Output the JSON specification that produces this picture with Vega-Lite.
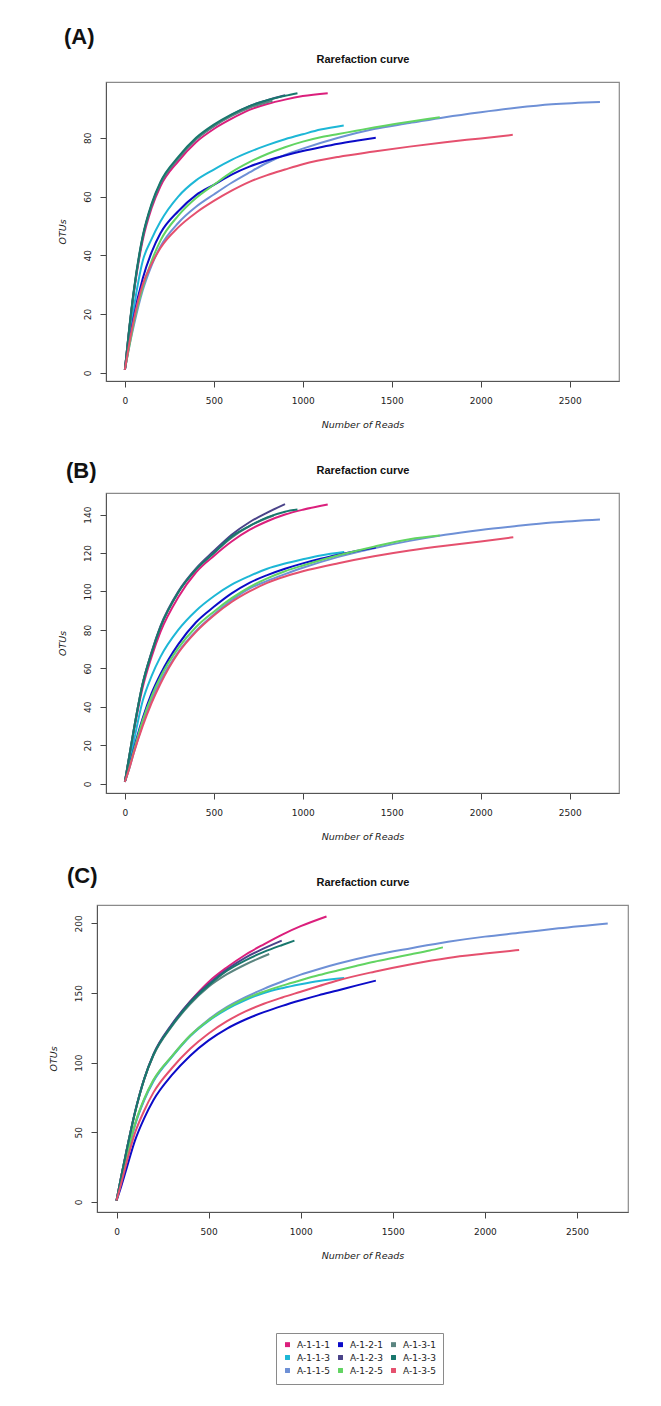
{
  "$schema": "https://vega.github.io/schema/vega-lite/v6.json",
  "autosize": {"type": "pad"},
  "background": "white",
  "padding": {"left": 47, "top": 25, "right": 5, "bottom": 5},
  "spacing": 112,
  "bounds": "flush",
  "center": true,
  "config": {
    "font": "Liberation Sans",
    "view": {"stroke": "#8a8a8a", "strokeWidth": 1.2},
    "axis": {"grid": false, "labelFont": "DejaVu Sans", "labelFontSize": 9, "labelColor": "#222", "titleFont": "DejaVu Sans", "titleFontSize": 9.5, "titleFontStyle": "italic", "titleFontWeight": "normal", "titleColor": "#222", "tickColor": "#444", "tickSize": 6, "domainColor": "#555", "labelOverlap": false, "labelFlush": false, "format": "d"},
    "axisX": {"labelPadding": 9, "titlePadding": 14, "labelAngle": 0},
    "axisY": {"labelAngle": 270, "labelAlign": "center", "labelBaseline": "bottom", "labelPadding": 8, "titlePadding": 16},
    "title": {"font": "Liberation Sans", "fontSize": 22, "fontWeight": "bold", "color": "#111", "anchor": "start", "frame": "group"}
  },
  "resolve": {"scale": {"color": "shared"}},
  "datasets": {
    "a": [
      {"s":"A-1-1-1","x":0,"y":1},{"s":"A-1-1-1","x":25,"y":15},{"s":"A-1-1-1","x":50,"y":27},{"s":"A-1-1-1","x":100,"y":45},{"s":"A-1-1-1","x":150,"y":56},{"s":"A-1-1-1","x":200,"y":63.5},{"s":"A-1-1-1","x":300,"y":72},{"s":"A-1-1-1","x":400,"y":78.5},{"s":"A-1-1-1","x":500,"y":83},{"s":"A-1-1-1","x":600,"y":86.5},{"s":"A-1-1-1","x":700,"y":89.5},{"s":"A-1-1-1","x":800,"y":91.5},{"s":"A-1-1-1","x":900,"y":93},{"s":"A-1-1-1","x":1000,"y":94.2},{"s":"A-1-1-1","x":1140,"y":95.2},
      {"s":"A-1-1-3","x":0,"y":1},{"s":"A-1-1-3","x":25,"y":12},{"s":"A-1-1-3","x":50,"y":22},{"s":"A-1-1-3","x":100,"y":38},{"s":"A-1-1-3","x":150,"y":45.5},{"s":"A-1-1-3","x":200,"y":51.5},{"s":"A-1-1-3","x":300,"y":60},{"s":"A-1-1-3","x":400,"y":65.5},{"s":"A-1-1-3","x":500,"y":69.2},{"s":"A-1-1-3","x":600,"y":72.5},{"s":"A-1-1-3","x":700,"y":75.2},{"s":"A-1-1-3","x":800,"y":77.5},{"s":"A-1-1-3","x":900,"y":79.5},{"s":"A-1-1-3","x":1000,"y":81.2},{"s":"A-1-1-3","x":1100,"y":82.8},{"s":"A-1-1-3","x":1230,"y":84.2},
      {"s":"A-1-1-5","x":0,"y":1},{"s":"A-1-1-5","x":25,"y":9},{"s":"A-1-1-5","x":50,"y":16},{"s":"A-1-1-5","x":100,"y":28},{"s":"A-1-1-5","x":150,"y":36.5},{"s":"A-1-1-5","x":200,"y":43},{"s":"A-1-1-5","x":300,"y":51},{"s":"A-1-1-5","x":400,"y":56.5},{"s":"A-1-1-5","x":500,"y":60.7},{"s":"A-1-1-5","x":600,"y":64.7},{"s":"A-1-1-5","x":700,"y":68.2},{"s":"A-1-1-5","x":800,"y":71.5},{"s":"A-1-1-5","x":900,"y":74.2},{"s":"A-1-1-5","x":1000,"y":76.3},{"s":"A-1-1-5","x":1200,"y":80},{"s":"A-1-1-5","x":1400,"y":83},{"s":"A-1-1-5","x":1600,"y":85},{"s":"A-1-1-5","x":1800,"y":87},{"s":"A-1-1-5","x":2000,"y":88.7},{"s":"A-1-1-5","x":2200,"y":90.2},{"s":"A-1-1-5","x":2400,"y":91.4},{"s":"A-1-1-5","x":2670,"y":92.2},
      {"s":"A-1-2-1","x":0,"y":1},{"s":"A-1-2-1","x":25,"y":10},{"s":"A-1-2-1","x":50,"y":19},{"s":"A-1-2-1","x":100,"y":32},{"s":"A-1-2-1","x":150,"y":41},{"s":"A-1-2-1","x":200,"y":47.5},{"s":"A-1-2-1","x":300,"y":55},{"s":"A-1-2-1","x":400,"y":60.5},{"s":"A-1-2-1","x":500,"y":64},{"s":"A-1-2-1","x":600,"y":67.5},{"s":"A-1-2-1","x":700,"y":70.2},{"s":"A-1-2-1","x":800,"y":72.3},{"s":"A-1-2-1","x":900,"y":74},{"s":"A-1-2-1","x":1000,"y":75.5},{"s":"A-1-2-1","x":1100,"y":76.8},{"s":"A-1-2-1","x":1200,"y":78},{"s":"A-1-2-1","x":1300,"y":79},{"s":"A-1-2-1","x":1410,"y":80},
      {"s":"A-1-2-3","x":0,"y":1},{"s":"A-1-2-3","x":25,"y":15},{"s":"A-1-2-3","x":50,"y":27.5},{"s":"A-1-2-3","x":100,"y":46},{"s":"A-1-2-3","x":150,"y":57},{"s":"A-1-2-3","x":200,"y":64.5},{"s":"A-1-2-3","x":300,"y":73},{"s":"A-1-2-3","x":400,"y":79.5},{"s":"A-1-2-3","x":500,"y":84},{"s":"A-1-2-3","x":600,"y":87.8},{"s":"A-1-2-3","x":700,"y":90.8},{"s":"A-1-2-3","x":800,"y":92.8},{"s":"A-1-2-3","x":900,"y":94.5},
      {"s":"A-1-2-5","x":0,"y":1},{"s":"A-1-2-5","x":25,"y":9},{"s":"A-1-2-5","x":50,"y":17},{"s":"A-1-2-5","x":100,"y":29},{"s":"A-1-2-5","x":150,"y":38},{"s":"A-1-2-5","x":200,"y":45},{"s":"A-1-2-5","x":300,"y":53.5},{"s":"A-1-2-5","x":400,"y":59.5},{"s":"A-1-2-5","x":500,"y":64},{"s":"A-1-2-5","x":600,"y":68.3},{"s":"A-1-2-5","x":700,"y":71.7},{"s":"A-1-2-5","x":800,"y":74.5},{"s":"A-1-2-5","x":900,"y":76.8},{"s":"A-1-2-5","x":1000,"y":78.7},{"s":"A-1-2-5","x":1100,"y":80.2},{"s":"A-1-2-5","x":1200,"y":81.3},{"s":"A-1-2-5","x":1300,"y":82.4},{"s":"A-1-2-5","x":1400,"y":83.5},{"s":"A-1-2-5","x":1500,"y":84.5},{"s":"A-1-2-5","x":1600,"y":85.5},{"s":"A-1-2-5","x":1700,"y":86.4},{"s":"A-1-2-5","x":1770,"y":87},
      {"s":"A-1-3-1","x":0,"y":1},{"s":"A-1-3-1","x":25,"y":15},{"s":"A-1-3-1","x":50,"y":27.5},{"s":"A-1-3-1","x":100,"y":46},{"s":"A-1-3-1","x":150,"y":57},{"s":"A-1-3-1","x":200,"y":64.5},{"s":"A-1-3-1","x":300,"y":73},{"s":"A-1-3-1","x":400,"y":79.5},{"s":"A-1-3-1","x":500,"y":84},{"s":"A-1-3-1","x":600,"y":87.5},{"s":"A-1-3-1","x":700,"y":90.2},{"s":"A-1-3-1","x":830,"y":92.6},
      {"s":"A-1-3-3","x":0,"y":1},{"s":"A-1-3-3","x":25,"y":15.5},{"s":"A-1-3-3","x":50,"y":28},{"s":"A-1-3-3","x":100,"y":46.5},{"s":"A-1-3-3","x":150,"y":57.5},{"s":"A-1-3-3","x":200,"y":65},{"s":"A-1-3-3","x":300,"y":73.5},{"s":"A-1-3-3","x":400,"y":80},{"s":"A-1-3-3","x":500,"y":84.5},{"s":"A-1-3-3","x":600,"y":88},{"s":"A-1-3-3","x":700,"y":90.8},{"s":"A-1-3-3","x":800,"y":92.8},{"s":"A-1-3-3","x":900,"y":94.3},{"s":"A-1-3-3","x":970,"y":95.2},
      {"s":"A-1-3-5","x":0,"y":1},{"s":"A-1-3-5","x":25,"y":10},{"s":"A-1-3-5","x":50,"y":18},{"s":"A-1-3-5","x":100,"y":30},{"s":"A-1-3-5","x":150,"y":37},{"s":"A-1-3-5","x":200,"y":42.5},{"s":"A-1-3-5","x":300,"y":49.5},{"s":"A-1-3-5","x":400,"y":54.5},{"s":"A-1-3-5","x":500,"y":58.5},{"s":"A-1-3-5","x":600,"y":62},{"s":"A-1-3-5","x":700,"y":65},{"s":"A-1-3-5","x":800,"y":67.3},{"s":"A-1-3-5","x":900,"y":69.2},{"s":"A-1-3-5","x":1000,"y":71},{"s":"A-1-3-5","x":1200,"y":73.5},{"s":"A-1-3-5","x":1400,"y":75.3},{"s":"A-1-3-5","x":1600,"y":77},{"s":"A-1-3-5","x":1800,"y":78.5},{"s":"A-1-3-5","x":2000,"y":79.8},{"s":"A-1-3-5","x":2180,"y":81}
    ],
    "b": [
      {"s":"A-1-1-1","x":0,"y":1},{"s":"A-1-1-1","x":25,"y":14},{"s":"A-1-1-1","x":50,"y":27},{"s":"A-1-1-1","x":100,"y":50},{"s":"A-1-1-1","x":150,"y":66},{"s":"A-1-1-1","x":200,"y":79},{"s":"A-1-1-1","x":300,"y":97},{"s":"A-1-1-1","x":400,"y":110},{"s":"A-1-1-1","x":500,"y":118.5},{"s":"A-1-1-1","x":600,"y":126},{"s":"A-1-1-1","x":700,"y":132},{"s":"A-1-1-1","x":800,"y":136.5},{"s":"A-1-1-1","x":900,"y":140},{"s":"A-1-1-1","x":1000,"y":142.5},{"s":"A-1-1-1","x":1140,"y":145.2},
      {"s":"A-1-1-3","x":0,"y":1},{"s":"A-1-1-3","x":25,"y":11},{"s":"A-1-1-3","x":50,"y":22},{"s":"A-1-1-3","x":100,"y":43},{"s":"A-1-1-3","x":150,"y":56},{"s":"A-1-1-3","x":200,"y":66},{"s":"A-1-1-3","x":300,"y":80},{"s":"A-1-1-3","x":400,"y":90},{"s":"A-1-1-3","x":500,"y":97.5},{"s":"A-1-1-3","x":600,"y":103.5},{"s":"A-1-1-3","x":700,"y":108},{"s":"A-1-1-3","x":800,"y":111.8},{"s":"A-1-1-3","x":900,"y":114.5},{"s":"A-1-1-3","x":1000,"y":116.7},{"s":"A-1-1-3","x":1100,"y":118.7},{"s":"A-1-1-3","x":1233,"y":120.5},
      {"s":"A-1-1-5","x":0,"y":1},{"s":"A-1-1-5","x":25,"y":8},{"s":"A-1-1-5","x":50,"y":16},{"s":"A-1-1-5","x":100,"y":31},{"s":"A-1-1-5","x":150,"y":43.5},{"s":"A-1-1-5","x":200,"y":53.5},{"s":"A-1-1-5","x":300,"y":68.5},{"s":"A-1-1-5","x":400,"y":79.5},{"s":"A-1-1-5","x":500,"y":88},{"s":"A-1-1-5","x":600,"y":95.5},{"s":"A-1-1-5","x":700,"y":101.5},{"s":"A-1-1-5","x":800,"y":105.5},{"s":"A-1-1-5","x":900,"y":109},{"s":"A-1-1-5","x":1000,"y":112.3},{"s":"A-1-1-5","x":1200,"y":118},{"s":"A-1-1-5","x":1400,"y":122.5},{"s":"A-1-1-5","x":1600,"y":126.3},{"s":"A-1-1-5","x":1800,"y":129.5},{"s":"A-1-1-5","x":2000,"y":132},{"s":"A-1-1-5","x":2200,"y":134},{"s":"A-1-1-5","x":2400,"y":135.8},{"s":"A-1-1-5","x":2670,"y":137.4},
      {"s":"A-1-2-1","x":0,"y":1},{"s":"A-1-2-1","x":25,"y":9},{"s":"A-1-2-1","x":50,"y":18},{"s":"A-1-2-1","x":100,"y":34},{"s":"A-1-2-1","x":150,"y":47},{"s":"A-1-2-1","x":200,"y":57},{"s":"A-1-2-1","x":300,"y":72.5},{"s":"A-1-2-1","x":400,"y":84},{"s":"A-1-2-1","x":500,"y":92},{"s":"A-1-2-1","x":600,"y":99},{"s":"A-1-2-1","x":700,"y":104.5},{"s":"A-1-2-1","x":800,"y":108.5},{"s":"A-1-2-1","x":900,"y":111.8},{"s":"A-1-2-1","x":1000,"y":114.6},{"s":"A-1-2-1","x":1100,"y":117},{"s":"A-1-2-1","x":1200,"y":119.1},{"s":"A-1-2-1","x":1300,"y":121},{"s":"A-1-2-1","x":1410,"y":122.8},
      {"s":"A-1-2-3","x":0,"y":1},{"s":"A-1-2-3","x":25,"y":14.5},{"s":"A-1-2-3","x":50,"y":28},{"s":"A-1-2-3","x":100,"y":52},{"s":"A-1-2-3","x":150,"y":68.5},{"s":"A-1-2-3","x":200,"y":82},{"s":"A-1-2-3","x":300,"y":100},{"s":"A-1-2-3","x":400,"y":112},{"s":"A-1-2-3","x":500,"y":121},{"s":"A-1-2-3","x":600,"y":129.5},{"s":"A-1-2-3","x":700,"y":136},{"s":"A-1-2-3","x":800,"y":141},{"s":"A-1-2-3","x":900,"y":145.4},
      {"s":"A-1-2-5","x":0,"y":1},{"s":"A-1-2-5","x":25,"y":8.5},{"s":"A-1-2-5","x":50,"y":17},{"s":"A-1-2-5","x":100,"y":33},{"s":"A-1-2-5","x":150,"y":45.5},{"s":"A-1-2-5","x":200,"y":55.5},{"s":"A-1-2-5","x":300,"y":70.5},{"s":"A-1-2-5","x":400,"y":81.5},{"s":"A-1-2-5","x":500,"y":89.5},{"s":"A-1-2-5","x":600,"y":96.5},{"s":"A-1-2-5","x":700,"y":102.3},{"s":"A-1-2-5","x":800,"y":106.8},{"s":"A-1-2-5","x":900,"y":110.5},{"s":"A-1-2-5","x":1000,"y":113.5},{"s":"A-1-2-5","x":1200,"y":118.8},{"s":"A-1-2-5","x":1400,"y":123.3},{"s":"A-1-2-5","x":1600,"y":127.2},{"s":"A-1-2-5","x":1770,"y":129.1},
      {"s":"A-1-3-1","x":0,"y":1},{"s":"A-1-3-1","x":25,"y":14.5},{"s":"A-1-3-1","x":50,"y":28},{"s":"A-1-3-1","x":100,"y":52},{"s":"A-1-3-1","x":150,"y":68},{"s":"A-1-3-1","x":200,"y":81.5},{"s":"A-1-3-1","x":300,"y":99.5},{"s":"A-1-3-1","x":400,"y":111.5},{"s":"A-1-3-1","x":500,"y":120},{"s":"A-1-3-1","x":600,"y":128},{"s":"A-1-3-1","x":700,"y":134},{"s":"A-1-3-1","x":836,"y":139.5},
      {"s":"A-1-3-3","x":0,"y":1},{"s":"A-1-3-3","x":25,"y":14.5},{"s":"A-1-3-3","x":50,"y":28},{"s":"A-1-3-3","x":100,"y":52},{"s":"A-1-3-3","x":150,"y":68},{"s":"A-1-3-3","x":200,"y":81.5},{"s":"A-1-3-3","x":300,"y":99.5},{"s":"A-1-3-3","x":400,"y":111.5},{"s":"A-1-3-3","x":500,"y":120},{"s":"A-1-3-3","x":600,"y":128.5},{"s":"A-1-3-3","x":700,"y":134},{"s":"A-1-3-3","x":800,"y":138.5},{"s":"A-1-3-3","x":900,"y":141.5},{"s":"A-1-3-3","x":970,"y":142.6},
      {"s":"A-1-3-5","x":0,"y":1},{"s":"A-1-3-5","x":25,"y":8},{"s":"A-1-3-5","x":50,"y":16},{"s":"A-1-3-5","x":100,"y":30},{"s":"A-1-3-5","x":150,"y":42},{"s":"A-1-3-5","x":200,"y":52},{"s":"A-1-3-5","x":300,"y":68},{"s":"A-1-3-5","x":400,"y":79},{"s":"A-1-3-5","x":500,"y":87.5},{"s":"A-1-3-5","x":600,"y":94.5},{"s":"A-1-3-5","x":700,"y":100},{"s":"A-1-3-5","x":800,"y":104.5},{"s":"A-1-3-5","x":900,"y":107.8},{"s":"A-1-3-5","x":1000,"y":110.5},{"s":"A-1-3-5","x":1200,"y":114.7},{"s":"A-1-3-5","x":1400,"y":118.3},{"s":"A-1-3-5","x":1600,"y":121.3},{"s":"A-1-3-5","x":1800,"y":123.8},{"s":"A-1-3-5","x":2000,"y":126},{"s":"A-1-3-5","x":2183,"y":128.2}
    ],
    "c": [
      {"s":"A-1-1-1","x":0,"y":1},{"s":"A-1-1-1","x":25,"y":18},{"s":"A-1-1-1","x":50,"y":34},{"s":"A-1-1-1","x":100,"y":64},{"s":"A-1-1-1","x":150,"y":88},{"s":"A-1-1-1","x":200,"y":105.5},{"s":"A-1-1-1","x":300,"y":127},{"s":"A-1-1-1","x":400,"y":144},{"s":"A-1-1-1","x":500,"y":158},{"s":"A-1-1-1","x":600,"y":168.5},{"s":"A-1-1-1","x":700,"y":177.5},{"s":"A-1-1-1","x":800,"y":185},{"s":"A-1-1-1","x":900,"y":192},{"s":"A-1-1-1","x":1000,"y":198},{"s":"A-1-1-1","x":1140,"y":205},
      {"s":"A-1-1-3","x":0,"y":1},{"s":"A-1-1-3","x":25,"y":15},{"s":"A-1-1-3","x":50,"y":29},{"s":"A-1-1-3","x":100,"y":55},{"s":"A-1-1-3","x":150,"y":73},{"s":"A-1-1-3","x":200,"y":86.5},{"s":"A-1-1-3","x":300,"y":104},{"s":"A-1-1-3","x":400,"y":119},{"s":"A-1-1-3","x":500,"y":130},{"s":"A-1-1-3","x":600,"y":138.5},{"s":"A-1-1-3","x":700,"y":145},{"s":"A-1-1-3","x":800,"y":150},{"s":"A-1-1-3","x":900,"y":153.5},{"s":"A-1-1-3","x":1000,"y":156.3},{"s":"A-1-1-3","x":1100,"y":158.7},{"s":"A-1-1-3","x":1236,"y":160.8},
      {"s":"A-1-1-5","x":0,"y":1},{"s":"A-1-1-5","x":25,"y":15},{"s":"A-1-1-5","x":50,"y":29},{"s":"A-1-1-5","x":100,"y":55.5},{"s":"A-1-1-5","x":150,"y":73.5},{"s":"A-1-1-5","x":200,"y":87},{"s":"A-1-1-5","x":300,"y":104.5},{"s":"A-1-1-5","x":400,"y":119.5},{"s":"A-1-1-5","x":500,"y":131},{"s":"A-1-1-5","x":600,"y":140},{"s":"A-1-1-5","x":700,"y":147},{"s":"A-1-1-5","x":800,"y":153},{"s":"A-1-1-5","x":900,"y":158.3},{"s":"A-1-1-5","x":1000,"y":163.2},{"s":"A-1-1-5","x":1100,"y":167.3},{"s":"A-1-1-5","x":1200,"y":171},{"s":"A-1-1-5","x":1400,"y":177.3},{"s":"A-1-1-5","x":1600,"y":182.2},{"s":"A-1-1-5","x":1800,"y":186.8},{"s":"A-1-1-5","x":2000,"y":190.5},{"s":"A-1-1-5","x":2200,"y":193.4},{"s":"A-1-1-5","x":2400,"y":196.5},{"s":"A-1-1-5","x":2667,"y":200},
      {"s":"A-1-2-1","x":0,"y":1},{"s":"A-1-2-1","x":25,"y":11},{"s":"A-1-2-1","x":50,"y":22},{"s":"A-1-2-1","x":100,"y":44},{"s":"A-1-2-1","x":150,"y":60},{"s":"A-1-2-1","x":200,"y":73},{"s":"A-1-2-1","x":300,"y":91},{"s":"A-1-2-1","x":400,"y":105},{"s":"A-1-2-1","x":500,"y":116},{"s":"A-1-2-1","x":600,"y":124.5},{"s":"A-1-2-1","x":700,"y":131},{"s":"A-1-2-1","x":800,"y":136.3},{"s":"A-1-2-1","x":900,"y":140.8},{"s":"A-1-2-1","x":1000,"y":144.8},{"s":"A-1-2-1","x":1100,"y":148.5},{"s":"A-1-2-1","x":1200,"y":151.8},{"s":"A-1-2-1","x":1300,"y":155.3},{"s":"A-1-2-1","x":1408,"y":158.9},
      {"s":"A-1-2-3","x":0,"y":1},{"s":"A-1-2-3","x":25,"y":18},{"s":"A-1-2-3","x":50,"y":34},{"s":"A-1-2-3","x":100,"y":64.5},{"s":"A-1-2-3","x":150,"y":88.5},{"s":"A-1-2-3","x":200,"y":106},{"s":"A-1-2-3","x":300,"y":127.5},{"s":"A-1-2-3","x":400,"y":144},{"s":"A-1-2-3","x":500,"y":156.5},{"s":"A-1-2-3","x":600,"y":167},{"s":"A-1-2-3","x":700,"y":175.5},{"s":"A-1-2-3","x":800,"y":182},{"s":"A-1-2-3","x":897,"y":187.6},
      {"s":"A-1-2-5","x":0,"y":1},{"s":"A-1-2-5","x":25,"y":15},{"s":"A-1-2-5","x":50,"y":29.5},{"s":"A-1-2-5","x":100,"y":56},{"s":"A-1-2-5","x":150,"y":74},{"s":"A-1-2-5","x":200,"y":87.5},{"s":"A-1-2-5","x":300,"y":104.5},{"s":"A-1-2-5","x":400,"y":119.5},{"s":"A-1-2-5","x":500,"y":130.5},{"s":"A-1-2-5","x":600,"y":139.3},{"s":"A-1-2-5","x":700,"y":146},{"s":"A-1-2-5","x":800,"y":151},{"s":"A-1-2-5","x":900,"y":155.3},{"s":"A-1-2-5","x":1000,"y":159.2},{"s":"A-1-2-5","x":1100,"y":162.9},{"s":"A-1-2-5","x":1200,"y":166.2},{"s":"A-1-2-5","x":1300,"y":169.4},{"s":"A-1-2-5","x":1400,"y":172.5},{"s":"A-1-2-5","x":1500,"y":175.2},{"s":"A-1-2-5","x":1600,"y":177.8},{"s":"A-1-2-5","x":1700,"y":180.5},{"s":"A-1-2-5","x":1772,"y":182.8},
      {"s":"A-1-3-1","x":0,"y":1},{"s":"A-1-3-1","x":25,"y":18},{"s":"A-1-3-1","x":50,"y":34},{"s":"A-1-3-1","x":100,"y":64},{"s":"A-1-3-1","x":150,"y":88},{"s":"A-1-3-1","x":200,"y":105},{"s":"A-1-3-1","x":300,"y":126},{"s":"A-1-3-1","x":400,"y":142},{"s":"A-1-3-1","x":500,"y":154.5},{"s":"A-1-3-1","x":600,"y":163.5},{"s":"A-1-3-1","x":700,"y":170.5},{"s":"A-1-3-1","x":829,"y":178},
      {"s":"A-1-3-3","x":0,"y":1},{"s":"A-1-3-3","x":25,"y":18},{"s":"A-1-3-3","x":50,"y":34},{"s":"A-1-3-3","x":100,"y":64},{"s":"A-1-3-3","x":150,"y":88},{"s":"A-1-3-3","x":200,"y":105.5},{"s":"A-1-3-3","x":300,"y":126.5},{"s":"A-1-3-3","x":400,"y":143},{"s":"A-1-3-3","x":500,"y":155.5},{"s":"A-1-3-3","x":600,"y":166},{"s":"A-1-3-3","x":700,"y":173.5},{"s":"A-1-3-3","x":800,"y":179.5},{"s":"A-1-3-3","x":900,"y":184.5},{"s":"A-1-3-3","x":966,"y":187.6},
      {"s":"A-1-3-5","x":0,"y":1},{"s":"A-1-3-5","x":25,"y":13},{"s":"A-1-3-5","x":50,"y":26},{"s":"A-1-3-5","x":100,"y":49.5},{"s":"A-1-3-5","x":150,"y":65.5},{"s":"A-1-3-5","x":200,"y":78.5},{"s":"A-1-3-5","x":300,"y":96},{"s":"A-1-3-5","x":400,"y":110},{"s":"A-1-3-5","x":500,"y":121},{"s":"A-1-3-5","x":600,"y":129.8},{"s":"A-1-3-5","x":700,"y":136.8},{"s":"A-1-3-5","x":800,"y":142.3},{"s":"A-1-3-5","x":900,"y":146.8},{"s":"A-1-3-5","x":1000,"y":150.9},{"s":"A-1-3-5","x":1100,"y":155},{"s":"A-1-3-5","x":1200,"y":159},{"s":"A-1-3-5","x":1400,"y":165.3},{"s":"A-1-3-5","x":1600,"y":170.7},{"s":"A-1-3-5","x":1800,"y":175.2},{"s":"A-1-3-5","x":2000,"y":178.3},{"s":"A-1-3-5","x":2186,"y":180.9}
    ]
  },
  "vconcat": [
    {
      "width": 513, "height": 299,
      "title": {"text": "(A)", "dx": -42, "offset": 4},
      "data": {"name": "a"},
      "resolve": {"axis": {"x": "independent"}},
      "layer": [
        {
          "mark": {"type": "line", "strokeWidth": 2, "interpolate": "monotone"},
          "encoding": {
            "x": {"field": "x", "type": "quantitative", "scale": {"domain": [-106, 2777], "nice": false, "zero": false}, "axis": {"values": [0, 500, 1000, 1500, 2000, 2500], "title": "Number of Reads"}},
            "y": {"field": "y", "type": "quantitative", "scale": {"domain": [-2.8, 99], "nice": false, "zero": false}, "axis": {"values": [0, 20, 40, 60, 80], "title": "OTUs"}},
            "color": {"field": "s", "type": "nominal",
              "scale": {"domain": ["A-1-1-1","A-1-1-3","A-1-1-5","A-1-2-1","A-1-2-3","A-1-2-5","A-1-3-1","A-1-3-3","A-1-3-5"], "range": ["#DB1F7C","#1DB7D6","#6E90D6","#0B0BC8","#4A4389","#62D462","#5B8580","#18776D","#E5506E"]},
              "legend": {"title": null, "orient": "none", "legendX": 179, "legendY": 1251, "columns": 3, "symbolType": "square", "symbolSize": 6, "symbolStrokeWidth": 2.5, "labelFont": "DejaVu Sans", "labelFontSize": 9, "labelColor": "#222", "labelOffset": 5, "columnPadding": 4, "rowPadding": 0, "padding": 7, "strokeColor": "#8a8a8a", "fillColor": "white"}}
          }
        },
        {
          "mark": {"type": "point", "opacity": 0},
          "encoding": {
            "x": {"field": "x", "type": "quantitative", "scale": {"domain": [-106, 2777], "nice": false, "zero": false}, "axis": {"orient": "top", "title": "Rarefaction curve", "labels": false, "ticks": false, "domain": false, "titleFont": "Liberation Sans", "titleFontSize": 11, "titleFontWeight": "bold", "titleFontStyle": "normal", "titleColor": "#111", "titlePadding": 18}}
          }
        }
      ]
    },
    {
      "width": 513, "height": 300,
      "title": {"text": "(B)", "dx": -40, "offset": 4, "dy": 23},
      "data": {"name": "b"},
      "resolve": {"axis": {"x": "independent"}},
      "layer": [
        {
          "mark": {"type": "line", "strokeWidth": 2, "interpolate": "monotone"},
          "encoding": {
            "x": {"field": "x", "type": "quantitative", "scale": {"domain": [-106, 2777], "nice": false, "zero": false}, "axis": {"values": [0, 500, 1000, 1500, 2000, 2500], "title": "Number of Reads"}},
            "y": {"field": "y", "type": "quantitative", "scale": {"domain": [-4.8, 151.2], "nice": false, "zero": false}, "axis": {"values": [0, 20, 40, 60, 80, 100, 120, 140], "title": "OTUs"}},
            "color": {"field": "s", "type": "nominal",
              "scale": {"domain": ["A-1-1-1","A-1-1-3","A-1-1-5","A-1-2-1","A-1-2-3","A-1-2-5","A-1-3-1","A-1-3-3","A-1-3-5"], "range": ["#DB1F7C","#1DB7D6","#6E90D6","#0B0BC8","#4A4389","#62D462","#5B8580","#18776D","#E5506E"]},
              "legend": {"title": null, "orient": "none", "legendX": 179, "legendY": 1251, "columns": 3, "symbolType": "square", "symbolSize": 6, "symbolStrokeWidth": 2.5, "labelFont": "DejaVu Sans", "labelFontSize": 9, "labelColor": "#222", "labelOffset": 5, "columnPadding": 4, "rowPadding": 0, "padding": 7, "strokeColor": "#8a8a8a", "fillColor": "white"}}
          }
        },
        {
          "mark": {"type": "point", "opacity": 0},
          "encoding": {
            "x": {"field": "x", "type": "quantitative", "scale": {"domain": [-106, 2777], "nice": false, "zero": false}, "axis": {"orient": "top", "title": "Rarefaction curve", "labels": false, "ticks": false, "domain": false, "titleFont": "Liberation Sans", "titleFontSize": 11, "titleFontWeight": "bold", "titleFontStyle": "normal", "titleColor": "#111", "titlePadding": 18}}
          }
        }
      ]
    },
    {
      "width": 531, "height": 307,
      "title": {"text": "(C)", "dx": -30, "offset": 4, "dy": 16},
      "data": {"name": "c"},
      "resolve": {"axis": {"x": "independent"}},
      "layer": [
        {
          "mark": {"type": "line", "strokeWidth": 2, "interpolate": "monotone"},
          "encoding": {
            "x": {"field": "x", "type": "quantitative", "scale": {"domain": [-106, 2777], "nice": false, "zero": false}, "axis": {"values": [0, 500, 1000, 1500, 2000, 2500], "title": "Number of Reads"}},
            "y": {"field": "y", "type": "quantitative", "scale": {"domain": [-7.2, 213.2], "nice": false, "zero": false}, "axis": {"values": [0, 50, 100, 150, 200], "title": "OTUs"}},
            "color": {"field": "s", "type": "nominal",
              "scale": {"domain": ["A-1-1-1","A-1-1-3","A-1-1-5","A-1-2-1","A-1-2-3","A-1-2-5","A-1-3-1","A-1-3-3","A-1-3-5"], "range": ["#DB1F7C","#1DB7D6","#6E90D6","#0B0BC8","#4A4389","#62D462","#5B8580","#18776D","#E5506E"]},
              "legend": {"title": null, "orient": "none", "legendX": 179, "legendY": 1251, "columns": 3, "symbolType": "square", "symbolSize": 6, "symbolStrokeWidth": 2.5, "labelFont": "DejaVu Sans", "labelFontSize": 9, "labelColor": "#222", "labelOffset": 5, "columnPadding": 4, "rowPadding": 0, "padding": 7, "strokeColor": "#8a8a8a", "fillColor": "white"}}
          }
        },
        {
          "mark": {"type": "point", "opacity": 0},
          "encoding": {
            "x": {"field": "x", "type": "quantitative", "scale": {"domain": [-106, 2777], "nice": false, "zero": false}, "axis": {"orient": "top", "title": "Rarefaction curve", "labels": false, "ticks": false, "domain": false, "titleFont": "Liberation Sans", "titleFontSize": 11, "titleFontWeight": "bold", "titleFontStyle": "normal", "titleColor": "#111", "titlePadding": 18}}
          }
        }
      ]
    }
  ]
}
